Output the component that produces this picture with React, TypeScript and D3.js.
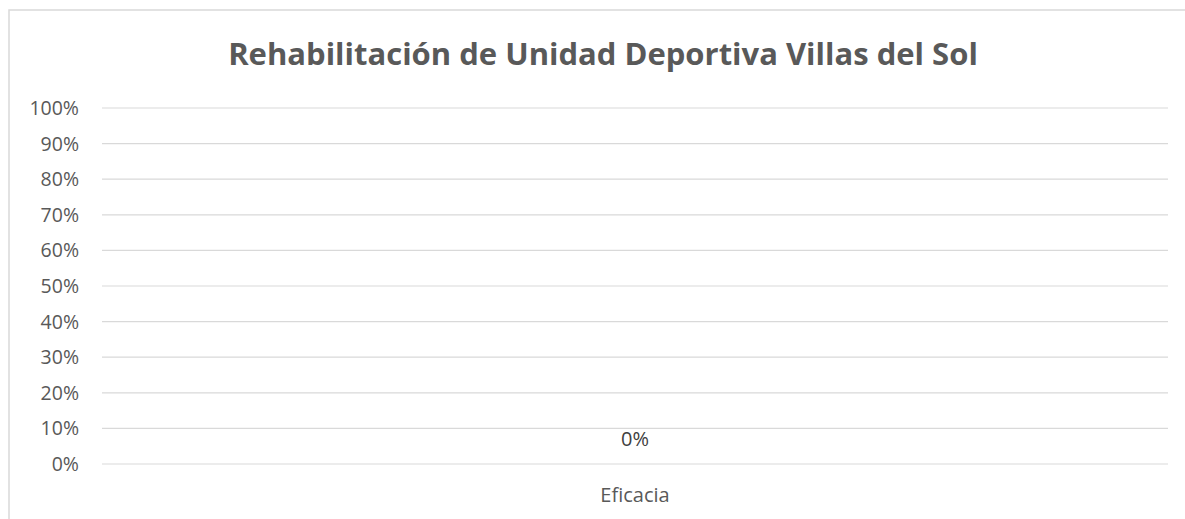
import { scaleBand, scaleLinear, range } from "d3";

const width = 1185;
const height = 519;

const title = "Rehabilitación de Unidad Deportiva Villas del Sol";
const categories = ["Eficacia"];
const values = [0];
const yTicks = range(0, 11).map((i) => i / 10);

const plotLeft = 102;
const plotRight = 1168;
const plotTop = 108;
const plotBottom = 464;
const textColor = "#595959";
const gridColor = "#d9d9d9";
const font = "'Open Sans', sans-serif";

export default function App() {
  const x = scaleBand<string>()
    .domain(categories)
    .range([plotLeft, plotRight])
    .paddingInner(0.5)
    .paddingOuter(0.5);
  const y = scaleLinear().domain([0, 1]).range([plotBottom, plotTop]);

  return (
    <svg
      width={width}
      height={height}
      style={{ position: "absolute", left: 0, top: 0 }}
    >
      <rect x={0} y={0} width={width} height={height} fill="white" />
      <rect
        x={9}
        y={10}
        width={width + 10}
        height={height + 10}
        fill="none"
        stroke={gridColor}
        strokeWidth={1.5}
      />
      <text
        x={603}
        y={65}
        textAnchor="middle"
        fontFamily={font}
        fontWeight="bold"
        fontSize={31}
        fill={textColor}
      >
        {title}
      </text>
      {yTicks.map((t) => (
        <g key={t}>
          <line
            x1={plotLeft}
            x2={plotRight}
            y1={y(t)}
            y2={y(t)}
            stroke={gridColor}
            strokeWidth={1.2}
          />
          <text
            x={79}
            y={y(t) + 7}
            textAnchor="end"
            fontFamily={font}
            fontSize={19.5}
            fill={textColor}
          >
            {`${Math.round(t * 100)}%`}
          </text>
        </g>
      ))}
      {categories.map((c, i) => {
        const bx = x(c) ?? 0;
        const cx = bx + x.bandwidth() / 2;
        return (
          <g key={c}>
            <rect
              x={bx}
              y={y(values[i])}
              width={x.bandwidth()}
              height={plotBottom - y(values[i])}
              fill="#4472c4"
            />
            <text
              x={cx}
              y={y(values[i]) - 18}
              textAnchor="middle"
              fontFamily={font}
              fontSize={20}
              fill="#404040"
            >
              {`${Math.round(values[i] * 100)}%`}
            </text>
            <text
              x={cx}
              y={502}
              textAnchor="middle"
              fontFamily={font}
              fontSize={20}
              fill={textColor}
            >
              {c}
            </text>
          </g>
        );
      })}
    </svg>
  );
}
